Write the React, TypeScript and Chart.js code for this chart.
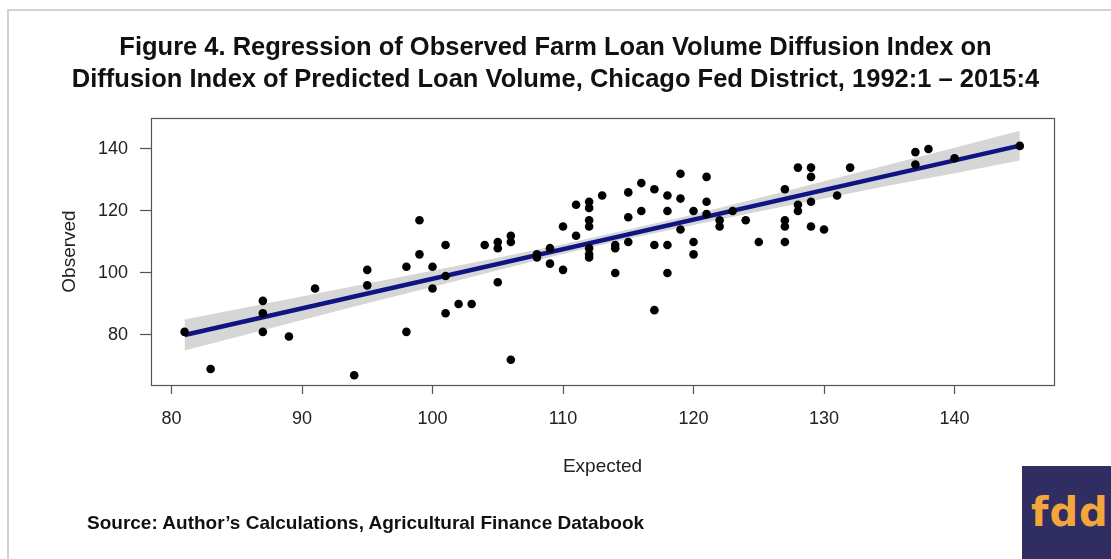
import React, { useEffect, useRef } from "react";
import { Chart, registerables } from "chart.js";

Chart.register(...registerables);

const titleLines = [
  "Figure 4. Regression of Observed Farm Loan Volume Diffusion Index on",
  "Diffusion Index of Predicted Loan Volume, Chicago Fed District, 1992:1 \u2013 2015:4",
];
const xAxisTitle = "Expected";
const yAxisTitle = "Observed";
const sourceText = "Source: Author\u2019s Calculations, Agricultural Finance Databook";

const xTicks = [80, 90, 100, 110, 120, 130, 140];
const yTicks = [80, 100, 120, 140];

// observed points (Expected, Observed)
const expected = [
  81, 83, 87, 87, 87, 89, 91, 94, 95, 95, 98, 98, 99, 99, 100, 100, 101, 101, 101, 102,
  103, 104, 105, 105, 105, 106, 106, 106, 108, 108, 109, 109, 110, 110, 111, 111, 112, 112, 112, 112,
  112, 112, 112, 113, 114, 114, 114, 115, 115, 115, 116, 116, 117, 117, 117, 118, 118, 118, 118, 119,
  119, 119, 120, 120, 120, 121, 121, 121, 122, 122, 123, 124, 125, 127, 127, 127, 127, 128, 128, 128,
  129, 129, 129, 129, 130, 131, 132, 137, 137, 138, 140, 145,
];
const observed = [
  81, 69, 91, 87, 81, 79.5, 95, 67, 101, 96, 102, 81, 117, 106, 102, 95, 109, 99, 87, 90,
  90, 109, 110, 108, 97, 112, 110, 72, 106, 105, 108, 103, 115, 101, 122, 112, 123, 121, 117, 115,
  108, 106, 105, 125, 109, 108, 100, 126, 118, 110, 129, 120, 127, 109, 88, 125, 120, 109, 100, 132,
  124, 114, 120, 110, 106, 131, 123, 119, 117, 115, 120, 117, 110, 127, 117, 115, 110, 134, 122, 120,
  134, 131, 123, 115, 114, 125, 134, 139, 135, 140, 137, 141,
];

// fitted regression line
const fitX = [81, 145];
const fitY = [80.0, 141.1];

// confidence band
const bandX = [81, 85, 90, 95, 100, 105, 110, 113, 115, 120, 125, 130, 135, 140, 145];
const bandUpper = [85.0, 88.3, 92.4, 96.6, 100.7, 104.9, 109.3, 112.1, 114.0, 118.9, 124.2, 129.6, 135.0, 140.4, 145.9];
const bandLower = [75.0, 79.3, 84.8, 90.2, 95.5, 100.9, 106.1, 109.1, 111.0, 115.5, 119.8, 124.0, 128.2, 132.2, 136.3];

const FONT = "'Liberation Sans', Arial, sans-serif";

const boxPlugin = {
  id: "plotBox",
  afterDatasetsDraw(chart: any) {
    const { ctx, chartArea } = chart;
    ctx.save();
    ctx.strokeStyle = "#555555";
    ctx.lineWidth = 1.2;
    ctx.strokeRect(chartArea.left + 0.5, chartArea.top + 0.5, chartArea.right - chartArea.left, chartArea.bottom - chartArea.top);
    ctx.restore();
  },
};

export default function App() {
  const ref = useRef<HTMLCanvasElement | null>(null);

  useEffect(() => {
    if (!ref.current) return;
    const chart = new Chart(ref.current, {
      type: "scatter",
      data: {
        datasets: [
          {
            label: "points",
            data: expected.map((x, i) => ({ x, y: observed[i] })),
            backgroundColor: "#000000",
            borderColor: "#000000",
            borderWidth: 0,
            pointRadius: 4.3,
            order: 0,
          },
          {
            label: "fit",
            data: fitX.map((x, i) => ({ x, y: fitY[i] })),
            showLine: true,
            borderColor: "#0f1482",
            borderWidth: 4.5,
            pointRadius: 0,
            fill: false,
            order: 1,
          },
          {
            label: "upper",
            data: bandX.map((x, i) => ({ x, y: bandUpper[i] })),
            showLine: true,
            borderWidth: 0,
            borderColor: "rgba(0,0,0,0)",
            pointRadius: 0,
            backgroundColor: "#d6d6d6",
            fill: "+1",
            order: 2,
          },
          {
            label: "lower",
            data: bandX.map((x, i) => ({ x, y: bandLower[i] })),
            showLine: true,
            borderWidth: 0,
            borderColor: "rgba(0,0,0,0)",
            pointRadius: 0,
            fill: false,
            order: 3,
          },
        ],
      },
      options: {
        animation: false,
        responsive: false,
        devicePixelRatio: 1,
        layout: { padding: 0 },
        plugins: {
          legend: { display: false },
          tooltip: { enabled: false },
          title: {
            display: true,
            text: titleLines,
            color: "#111111",
            font: { family: FONT, size: 25.5, weight: "bold", lineHeight: 32 / 25.5 },
            padding: { top: 32, bottom: 22 },
          },
        },
        scales: {
          x: {
            type: "linear",
            min: 78.43,
            max: 147.62,
            afterBuildTicks: (s: any) => {
              s.ticks = xTicks.map((v) => ({ value: v }));
            },
            afterFit: (s: any) => {
              s.height = 174;
            },
            border: { display: false },
            grid: { drawOnChartArea: false, tickLength: 9, color: "#555555", tickWidth: 1.2 },
            ticks: { color: "#222222", font: { family: FONT, size: 18 }, padding: 14, maxRotation: 0, autoSkip: false },
            title: {
              display: true,
              text: xAxisTitle,
              color: "#222222",
              font: { family: FONT, size: 19 },
              padding: { top: 0, bottom: 80.6 },
            },
          },
          y: {
            type: "linear",
            min: 63.85,
            max: 150.0,
            afterBuildTicks: (s: any) => {
              s.ticks = yTicks.map((v) => ({ value: v }));
            },
            afterFit: (s: any) => {
              s.width = 151;
            },
            border: { display: false },
            grid: { drawOnChartArea: false, tickLength: 11, color: "#555555", tickWidth: 1.2 },
            ticks: { color: "#222222", font: { family: FONT, size: 18 }, padding: 12, autoSkip: false },
            title: {
              display: true,
              text: yAxisTitle,
              color: "#222222",
              font: { family: FONT, size: 19 },
              padding: { top: 58.6, bottom: 0 },
            },
          },
          y2: {
            type: "linear",
            position: "right",
            display: true,
            afterFit: (s: any) => {
              s.width = 57;
            },
            border: { display: false },
            grid: { display: false },
            ticks: { display: false },
          },
        },
      },
      plugins: [boxPlugin],
    } as any);
    return () => chart.destroy();
  }, []);

  return (
    <div style={{ position: "absolute", left: 0, top: 0, width: 1111, height: 559, background: "#ffffff", overflow: "hidden" }}>
      <div
        style={{
          position: "absolute",
          left: 7,
          top: 9,
          width: 1200,
          height: 600,
          borderLeft: "2px solid #d2d2d2",
          borderTop: "2px solid #d2d2d2",
          boxSizing: "border-box",
        }}
      />
      <canvas ref={ref} width={1111} height={559} style={{ position: "absolute", left: 0, top: 0, width: 1111, height: 559 }} />
      <div
        style={{
          position: "absolute",
          left: 87,
          top: 512,
          fontFamily: FONT,
          fontWeight: "bold",
          fontSize: 19,
          color: "#111111",
          whiteSpace: "nowrap",
          lineHeight: "22px",
        }}
      >
        {sourceText}
      </div>
      <div
        style={{
          position: "absolute",
          left: 1022,
          top: 466,
          width: 100,
          height: 100,
          background: "#2f2d62",
        }}
      >
        <div
          style={{
            position: "absolute",
            left: 9,
            top: 26,
            fontFamily: "'DejaVu Sans', sans-serif",
            fontWeight: "bold",
            fontSize: 40,
            lineHeight: "40px",
            color: "#f4a53c",
            letterSpacing: 1,
            whiteSpace: "nowrap",
          }}
        >
          fdd
        </div>
      </div>
    </div>
  );
}
